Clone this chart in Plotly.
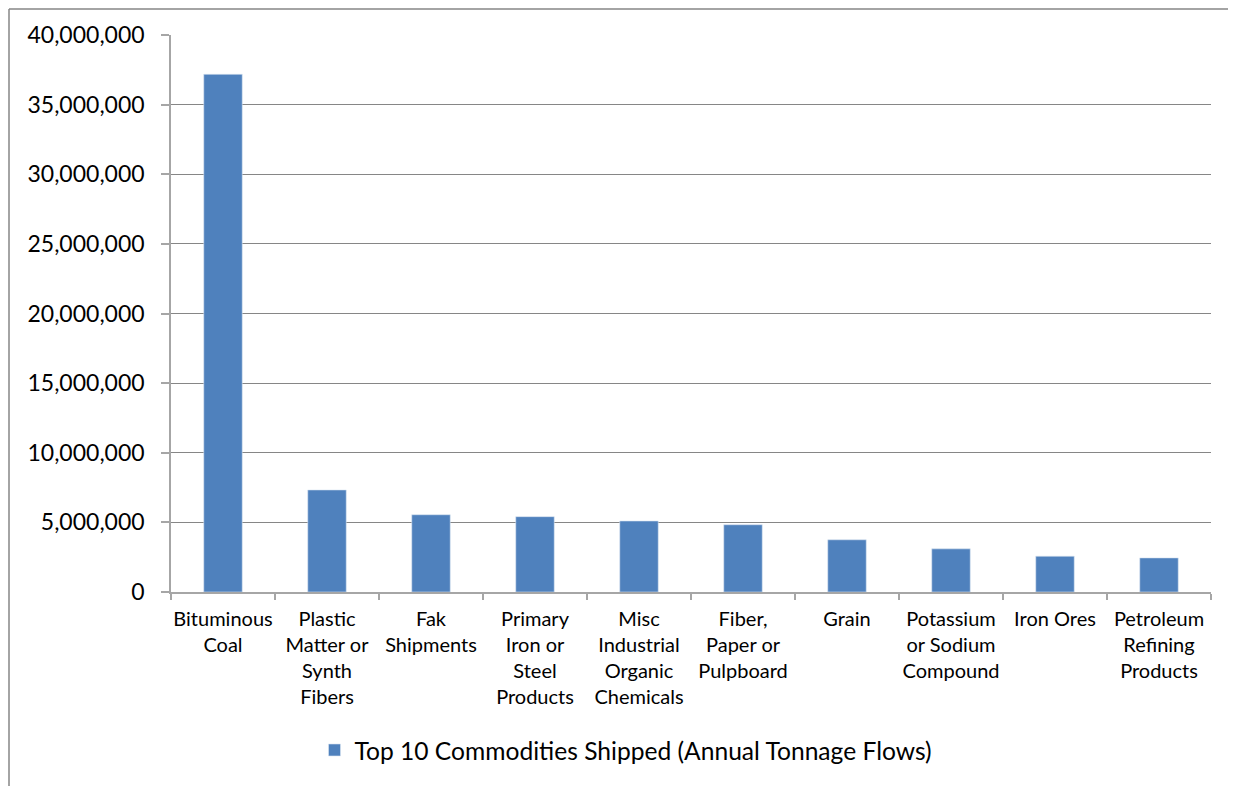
import plotly.graph_objects as go

categories = [
    "Bituminous<br>Coal",
    "Plastic<br>Matter or<br>Synth<br>Fibers",
    "Fak<br>Shipments",
    "Primary<br>Iron or<br>Steel<br>Products",
    "Misc<br>Industrial<br>Organic<br>Chemicals",
    "Fiber,<br>Paper or<br>Pulpboard",
    "Grain",
    "Potassium<br>or Sodium<br>Compound",
    "Iron Ores",
    "Petroleum<br>Refining<br>Products",
]
tonnage = [37180000, 7330000, 5550000, 5410000, 5100000, 4830000, 3750000, 3100000, 2570000, 2450000]
series_name = "Top 10 Commodities Shipped (Annual Tonnage Flows)"
y_ticks = [0, 5000000, 10000000, 15000000, 20000000, 25000000, 30000000, 35000000, 40000000]

# page is rendered with an 8px body offset
OFF = 8
W, H = 1236 - OFF, 786 - OFF
L, T = 171 - OFF, 35 - OFF
R = W - (1211 - OFF)
B = H - (592 - OFF)
pw = W - L - R
ph = H - T - B
zero_y = 592 - OFF

fig = go.Figure()
fig.add_trace(go.Bar(
    x=categories, y=tonnage, name=series_name,
    marker=dict(color="#4F81BD", line=dict(color="#DCE6F2", width=0.6)),
    showlegend=True,
))

font_family = "Lato"

fig.update_layout(
    width=W, height=H,
    margin=dict(l=L, r=R, t=T, b=B, autoexpand=False),
    paper_bgcolor="white", plot_bgcolor="white",
    bargap=0.63,
    font=dict(family=font_family, color="black"),
    showlegend=True,
    legend=dict(
        orientation="h", x=(626 - OFF - L) / pw, xanchor="center",
        y=(zero_y - (750 - OFF)) / ph, yanchor="middle",
        font=dict(size=24.6, family=font_family, color="black"),
        itemwidth=30,
    ),
    xaxis=dict(
        type="category",
        showline=True, linecolor="#A6A6A6", linewidth=1.5,
        ticks="outside", tickson="boundaries", ticklen=6, tickcolor="#A6A6A6", tickwidth=1.5,
        showgrid=False,
        tickfont=dict(size=20, family=font_family, color="black"),
        tickangle=0,
        ticklabelstandoff=8,
    ),
    yaxis=dict(
        range=[0, 40000000],
        tickvals=y_ticks,
        ticktext=[f"{v:,}" for v in y_ticks],
        showline=True, linecolor="#A6A6A6", linewidth=1.5,
        ticks="outside", ticklen=8, tickcolor="#A6A6A6", tickwidth=1.5,
        showgrid=True, gridcolor="#868686", gridwidth=1.3,
        zeroline=False,
        tickfont=dict(size=23, family=font_family, color="black"),
        ticklabelstandoff=12,
    ),
)

# outer chart border: only the left and top edges are visible in the frame
bx0 = (1 - L) / pw
by1 = (zero_y - 1) / ph
fig.add_shape(type="line", xref="paper", yref="paper",
              x0=bx0, x1=bx0, y0=(zero_y - H) / ph, y1=by1,
              line=dict(color="#868686", width=1.5), layer="below")
fig.add_shape(type="line", xref="paper", yref="paper",
              x0=bx0, x1=(W - L) / pw, y0=by1, y1=by1,
              line=dict(color="#868686", width=1.5), layer="below")

fig.write_html("out.html")
